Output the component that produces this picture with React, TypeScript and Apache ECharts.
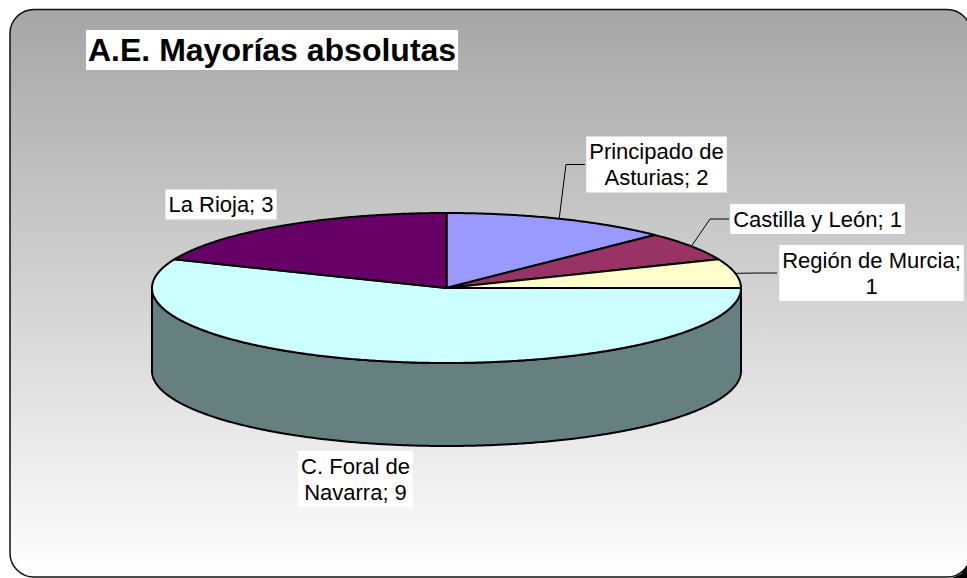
import React, { useEffect, useRef } from "react";
import * as echarts from "echarts";

// ---- data ----
const categories = [
  "Principado de Asturias",
  "Castilla y León",
  "Región de Murcia",
  "C. Foral de Navarra",
  "La Rioja",
];
const values = [2, 1, 1, 9, 3];
const titleText = "A.E. Mayorías absolutas";

// ---- styles / layout (kept apart from the data) ----
const sliceColors = ["#9999FF", "#993366", "#FFFFCC", "#CCFFFF", "#660066"];
const labelWrapAfterWords = [2, 0, 3, 3, 0];
const labelBoxes = [
  { cx: 656.5, cy: 164.5, left: 587, leader: true },
  { cx: 817.5, cy: 219, left: 731, leader: true },
  { cx: 871.5, cy: 273, left: 779, leader: true },
  { cx: 355.5, cy: 479, left: 299, leader: false },
  { cx: 221, cy: 204.5, left: 167, leader: false },
];
const PIE = { cx: 446.5, cy: 288, rx: 294.5, ry: 75, depth: 83 };
const FONT = "'Liberation Sans', Arial, Helvetica, sans-serif";

function darken(hex: string, f: number) {
  const n = parseInt(hex.slice(1), 16);
  const r = Math.round(((n >> 16) & 255) * f);
  const g = Math.round(((n >> 8) & 255) * f);
  const b = Math.round((n & 255) * f);
  return `rgb(${r},${g},${b})`;
}

function sliceAngles(i: number): [number, number] {
  const total = values.reduce((a, b) => a + b, 0);
  let cum = 0;
  for (let k = 0; k < i; k++) cum += values[k];
  const a0 = 90 - (cum / total) * 360;
  const a1 = 90 - ((cum + values[i]) / total) * 360;
  return [a0, a1];
}

function pt(a: number, dy = 0): number[] {
  const r = (a * Math.PI) / 180;
  return [PIE.cx + PIE.rx * Math.cos(r), PIE.cy - PIE.ry * Math.sin(r) + dy];
}

function arcAngles(a0: number, a1: number): number[] {
  const out = [a0];
  let k = Math.floor(a0 * 2) / 2;
  if (k === a0) k -= 0.5;
  while (k > a1) {
    out.push(k);
    k -= 0.5;
  }
  out.push(a1);
  return out;
}

function labelText(i: number) {
  const words = `${categories[i]}; ${values[i]}`.split(" ");
  const n = labelWrapAfterWords[i];
  if (!n) return words.join(" ");
  return words.slice(0, n).join(" ") + "\n" + words.slice(n).join(" ");
}

export default function App() {
  const ref = useRef<HTMLDivElement>(null);

  useEffect(() => {
    document.body.style.margin = "0";
    const chart = echarts.init(ref.current!, undefined, { renderer: "svg" });
    const seriesData = values.map((v, i) => ({ value: v, name: categories[i] }));

    const option: any = {
      animation: false,
      title: {
        text: titleText,
        left: 86,
        top: 30,
        padding: [3, 2],
        backgroundColor: "#ffffff",
        textStyle: {
          fontFamily: FONT,
          fontSize: 32,
          fontWeight: "bold",
          color: "#000000",
          lineHeight: 34,
        },
      },
      graphic: [
        {
          type: "rect",
          z: -10,
          silent: true,
          shape: { x: 10, y: 9.5, width: 961, height: 567.5, r: 24 },
          style: {
            fill: new echarts.graphic.LinearGradient(0, 0, 0, 1, [
              { offset: 0, color: "#a6a6a6" },
              { offset: 1, color: "#ffffff" },
            ]),
            stroke: "#111111",
            lineWidth: 1.5,
          },
        },
        {
          type: "polygon",
          z: -9,
          silent: true,
          shape: { points: [[952, 578], [961, 574], [967, 565], [967, 578]] },
          style: { fill: "#000000" },
        },
      ],
      series: [
        {
          type: "custom",
          name: "sides",
          coordinateSystem: "none",
          silent: true,
          z: 2,
          data: seriesData,
          renderItem: (params: any) => {
            const i = params.dataIndex;
            const [a0, a1] = sliceAngles(i);
            const angs = arcAngles(a0, a1);
            const runs: number[][] = [];
            let cur: number[] = [];
            for (const a of angs) {
              const s = Math.sin((a * Math.PI) / 180);
              if (s <= 1e-9) cur.push(a);
              else {
                if (cur.length > 1) runs.push(cur);
                cur = [];
              }
            }
            if (cur.length > 1) runs.push(cur);
            return {
              type: "group",
              children: runs.map((run) => {
                const top = run.map((a) => pt(a));
                const bot = run
                  .slice()
                  .reverse()
                  .map((a) => pt(a, PIE.depth));
                return {
                  type: "polygon",
                  shape: { points: top.concat(bot) },
                  style: {
                    fill: darken(sliceColors[i], 0.5),
                    stroke: "#000000",
                    lineWidth: 2,
                    lineJoin: "round",
                  },
                };
              }),
            };
          },
        },
        {
          type: "custom",
          name: "tops",
          coordinateSystem: "none",
          silent: true,
          z: 3,
          data: seriesData,
          renderItem: (params: any) => {
            const i = params.dataIndex;
            const [a0, a1] = sliceAngles(i);
            const pts = [[PIE.cx, PIE.cy]].concat(arcAngles(a0, a1).map((a) => pt(a)));
            return {
              type: "polygon",
              shape: { points: pts },
              style: {
                fill: sliceColors[i],
                stroke: "#000000",
                lineWidth: 2,
                lineJoin: "round",
              },
            };
          },
        },
        {
          type: "custom",
          name: "labels",
          coordinateSystem: "none",
          silent: true,
          z: 4,
          data: seriesData,
          renderItem: (params: any) => {
            const i = params.dataIndex;
            const box = labelBoxes[i];
            const children: any[] = [];
            if (box.leader) {
              const [a0, a1] = sliceAngles(i);
              const p = pt((a0 + a1) / 2);
              children.push({
                type: "polyline",
                shape: {
                  points: [p, [box.left - 21, box.cy], [box.left - 2, box.cy]],
                },
                style: { stroke: "#000000", lineWidth: 1, fill: null },
              });
            }
            children.push({
              type: "text",
              x: box.cx,
              y: box.cy,
              style: {
                text: labelText(i),
                fill: "#000000",
                fontSize: 22,
                fontFamily: FONT,
                align: "center",
                verticalAlign: "middle",
                lineHeight: 26,
                backgroundColor: "#ffffff",
                padding: [2, 3],
              },
            });
            return { type: "group", children };
          },
        },
      ],
    };

    chart.setOption(option);
    return () => chart.dispose();
  }, []);

  return (
    <div
      ref={ref}
      style={{ position: "absolute", left: 0, top: 0, width: 967, height: 578 }}
    />
  );
}
